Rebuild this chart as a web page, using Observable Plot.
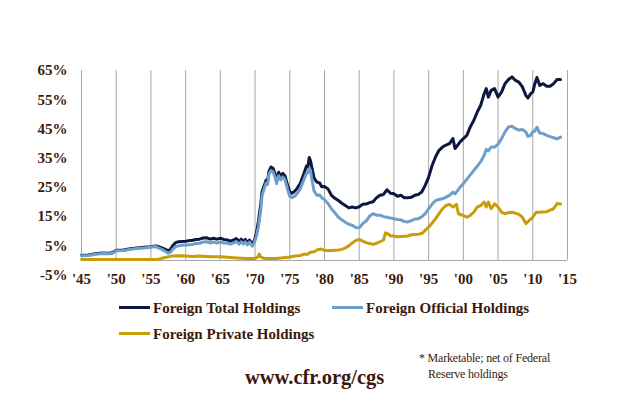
<!DOCTYPE html>
<html><head><meta charset="utf-8">
<script src="https://cdn.jsdelivr.net/npm/d3@7"></script>
<script src="https://cdn.jsdelivr.net/npm/@observablehq/plot@0.6"></script>
<style>
body{margin:0;background:#fff;width:640px;height:395px;position:relative;overflow:hidden;font-family:"Liberation Serif",serif;color:#3b1a0c}
#chart{position:absolute;left:0;top:0}
.leg{position:absolute;font-weight:bold;font-size:15px;line-height:16px;white-space:nowrap}
.sw{position:absolute;height:3px;width:31px}
.note{position:absolute;font-size:12px;line-height:15px;white-space:nowrap;letter-spacing:-0.2px}
.url{position:absolute;font-weight:bold;font-size:20.5px;white-space:nowrap}
</style></head><body>
<div id="chart"></div>
<div class="sw" style="left:119px;top:306px;background:#0d1742"></div>
<div class="leg" style="left:153px;top:300px">Foreign Total Holdings</div>
<div class="sw" style="left:332px;top:306px;background:#6e9fcb"></div>
<div class="leg" style="left:366px;top:300px">Foreign Official Holdings</div>
<div class="sw" style="left:119px;top:332px;background:#c89d0a"></div>
<div class="leg" style="left:153px;top:326px">Foreign Private Holdings</div>
<div class="url" style="left:245px;top:366px">www.cfr.org/cgs</div>
<div class="note" style="left:419px;top:351px">* Marketable; net of Federal</div>
<div class="note" style="left:428px;top:367px">Reserve holdings</div>
<script>
const seriesNames = ["Foreign Total Holdings","Foreign Official Holdings","Foreign Private Holdings"];
const seriesColors = ["#0d1742","#6e9fcb","#c89d0a"];

const totalYears = [1945,1946,1947,1948,1949,1949.5,1950,1951,1952,1953,1954,1955,1955.7,1956,1956.5,1957,1957.5,1957.8,1958.2,1958.6,1959,1959.5,1960,1960.5,1961,1961.5,1962,1962.5,1963,1963.5,1964,1964.5,1965,1965.5,1966,1966.5,1967,1967.3,1967.7,1968,1968.3,1968.6,1968.9,1969.2,1969.6,1969.9,1970.2,1970.5,1970.8,1971,1971.3,1971.6,1971.8,1972,1972.3,1972.6,1972.9,1973.1,1973.4,1973.7,1974,1974.3,1974.7,1975,1975.3,1975.7,1976,1976.5,1977,1977.4,1977.6,1977.8,1978,1978.2,1978.5,1978.9,1979.3,1979.6,1980,1980.5,1981,1981.5,1982,1982.5,1983,1983.5,1984,1984.5,1985,1985.5,1986,1986.5,1987,1987.5,1988,1988.5,1989,1989.5,1990,1990.5,1991,1991.5,1992,1992.5,1993,1993.5,1994,1994.5,1995,1995.5,1996,1996.5,1997,1997.5,1998,1998.5,1998.8,1999.2,1999.5,2000,2000.5,2001,2001.5,2002,2002.5,2003,2003.3,2003.6,2004,2004.5,2005,2005.5,2006,2006.5,2007,2007.5,2008,2008.5,2009,2009.3,2009.7,2010,2010.3,2010.6,2011,2011.5,2012,2012.5,2013,2013.5,2014];
const totalValues = [1.8,1.9,2.3,2.6,2.5,2.7,3.5,3.6,4.0,4.3,4.5,4.7,5.0,4.8,4.4,3.9,3.3,3.8,5.3,6.2,6.4,6.5,6.6,6.8,6.9,7.2,7.3,7.7,7.8,7.3,7.6,7.3,7.6,7.2,7.0,6.6,7.1,7.5,6.5,7.3,6.4,7.2,6.0,7.0,5.6,6.8,9.5,13.7,19,23.5,25.5,27.5,27.0,30.5,32,31.5,29.5,27.5,30.2,28.8,29.8,29.0,25.7,23.5,23,23.7,24.5,26.3,29.5,32.3,32.0,35.2,34,31.5,28.2,26.8,26.5,25.2,25.3,24.5,22.3,21.3,20.5,19.6,18.8,18.0,18.3,18.0,18.4,19.2,19.3,19.8,20.1,21.5,22.3,22.6,24.2,23.0,22.8,22.0,22.3,21.5,21.5,21.6,22.3,22.6,23.4,25.7,28.5,32.5,35.5,37.7,38.8,39.5,40,41.7,38.3,39.5,40.5,41.7,42.8,45.7,47.9,50.8,53.1,57.1,58.8,55.9,58.2,58.8,55.9,57.6,60.5,61.9,62.8,61.6,61,59.4,56.5,55.6,57.1,57.6,60.5,62.6,59.9,60.5,59.6,59.6,60.5,61.9,61.9];

const officialYears = totalYears;
const officialValues = [1.6,1.7,2.1,2.4,2.3,2.5,3.3,3.4,3.8,4.1,4.3,4.5,4.8,4.4,3.9,3.2,2.5,2.8,4.0,4.8,5.0,5.2,5.3,5.4,5.5,5.8,5.9,6.3,6.4,6.0,6.3,6.0,6.3,6.0,5.9,5.6,6.1,6.5,5.6,6.4,5.6,6.4,5.3,6.3,4.9,6.1,8.3,11.8,17,22,24.5,26.5,26,29.5,30.8,30.3,28.3,26.3,29.0,27.6,28.6,27.7,24.2,22,21.5,22,22.7,24.5,27.5,29.8,30.0,31.4,30.8,27.5,23.8,22.3,22.4,21.5,20.8,19.5,17.7,16.3,14.8,13.9,13.1,12.4,12.0,11.3,11.2,12.6,13.5,15.2,16.0,15.5,15.5,15.0,14.8,14.5,14.3,14.0,13.9,13.3,13.2,13.6,14.2,14.3,14.9,16.0,17.7,19.3,20.5,20.9,21.1,21.7,22.3,23.4,22.8,24.0,25.0,26.3,27.8,29.3,30.8,32.3,33.8,36.0,38.0,37.5,38.8,38.8,39.8,41.7,44,45.7,45.9,45.1,44.6,44.8,44.0,42.5,42.8,44.0,44.3,45.6,43.6,43.4,42.8,42.4,42.0,41.6,42.2];

const privateYears = [1945,1950,1955,1955.8,1956.5,1957,1958,1959,1960,1961,1962,1963,1964,1965,1966,1967,1968,1969,1970,1970.4,1970.6,1970.8,1971.2,1972,1973,1974,1975,1976,1976.5,1977,1977.5,1978,1978.5,1979,1979.5,1980,1980.5,1981,1981.5,1982,1982.5,1983,1983.5,1984,1984.5,1985,1985.5,1986,1986.5,1987,1987.5,1988,1988.5,1988.8,1989.2,1989.5,1990,1990.5,1991,1991.5,1992,1992.5,1993,1993.5,1994,1994.5,1995,1995.5,1996,1996.5,1997,1997.5,1998,1998.5,1999,1999.3,2000,2000.5,2001,2001.5,2002,2002.5,2003,2003.3,2003.6,2004,2004.5,2005,2005.5,2006,2006.5,2007,2007.5,2008,2008.5,2009,2009.5,2010,2010.5,2011,2011.5,2012,2012.5,2013,2013.5,2014];
const privateValues = [0.3,0.3,0.3,0.3,0.7,1.0,1.5,1.6,1.5,1.4,1.5,1.4,1.3,1.3,1.1,0.9,0.8,0.7,0.7,1.2,2.2,1.2,0.8,0.7,0.7,0.9,1.2,1.6,1.7,2.1,2.1,2.8,3.0,3.7,3.9,3.5,3.3,3.4,3.5,3.6,3.8,4.3,5.0,6.0,6.8,7.2,6.6,6.1,5.8,5.5,5.9,6.4,7.0,9.5,9.0,8.4,8.4,8.1,8.2,8.3,8.4,8.8,8.9,9.0,9.2,10.3,11.4,12.8,14.3,16.0,17.7,18.8,19.2,18.3,19.2,16.0,15.4,14.8,15.4,16.5,18.3,18.8,20,18.3,20,17.7,19.4,18.3,16.5,16.0,16.4,16.5,16.2,15.8,14.8,12.6,13.7,14.8,16.5,16.5,16.6,16.7,17.2,17.7,19.5,19.3];

const yTicks = [-5,5,15,25,35,45,55,65];
const yTickLabels = ["-5%","5%","15%","25%","35%","45%","55%","65%"];
const xTicks = [1945,1950,1955,1960,1965,1970,1975,1980,1985,1990,1995,2000,2005,2010,2015];
const xTickLabels = ["'45","'50","'55","'60","'65","'70","'75","'80","'85","'90","'95","'00","'05","'10","'15"];

const toRows = (years, values, s) => years.map((y,i)=>({year:y, value:values[i], series:s}));
const rows = [
  ...toRows(totalYears,totalValues,seriesNames[0]),
  ...toRows(officialYears,officialValues,seriesNames[1]),
  ...toRows(privateYears,privateValues,seriesNames[2])
];

const chart = Plot.plot({
  width: 640, height: 300,
  marginLeft: 81, marginRight: 73, marginTop: 70, marginBottom: 25.4,
  style: {fontFamily: "'Liberation Serif', serif", fontSize: "15px", fontWeight: "bold", color: "#3b1a0c", background: "transparent"},
  x: {domain: [1945, 2015], axis: null},
  y: {domain: [-5, 65], axis: null},
  color: {domain: seriesNames, range: seriesColors},
  marks: [
    Plot.ruleX(xTicks, {x: d=>d, y1: 0, y2: 65, stroke: "#a8a8a8", strokeWidth: 1}),
    Plot.ruleY([0], {x1: 1945, x2: 2015, stroke: "#a8a8a8", strokeWidth: 1.2}),
    Plot.line(rows, {x: "year", y: "value", z: "series", stroke: "series", strokeWidth: 3, strokeLinejoin: "round", curve: "linear"}),
    Plot.text(yTicks, {x: 1945, y: d=>d, text: (d,i)=>yTickLabels[i], textAnchor: "end", dx: -14, fill: "#3b1a0c"}),
    Plot.text(xTicks, {x: d=>d, y: -5, text: (d,i)=>xTickLabels[i], dy: 4, fill: "#3b1a0c"})
  ]
});
document.getElementById("chart").appendChild(chart);
</script>
</body></html>
